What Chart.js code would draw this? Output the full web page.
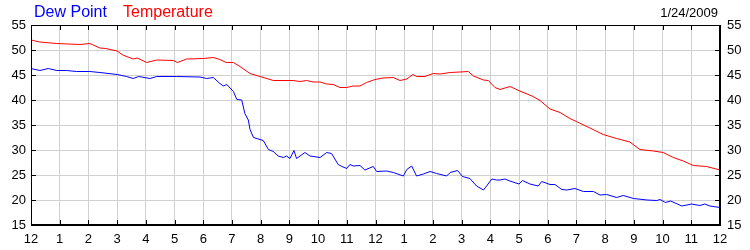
<!DOCTYPE html>
<html>
<head>
<meta charset="utf-8">
<script src="https://cdn.jsdelivr.net/npm/chart.js@4/dist/chart.umd.min.js"></script>
<style>
    body { margin: 0; background: #fff; }
    .wrap { position: relative; width: 750px; height: 250px; font-family: "Liberation Sans", Arial, sans-serif; }
    .label { position: absolute; line-height: 1; white-space: nowrap; }
    .dew { left: 34px; top: 4px; font-size: 16px; color: #0000ff; }
    .temp { left: 123px; top: 4px; font-size: 16px; color: #ff0000; }
    .date { right: 32px; top: 6px; font-size: 13px; color: #000; }
</style>
</head>
<body>
<div class="wrap">
    <canvas id="weatherChart"></canvas>
    <span class="label dew">Dew Point</span>
    <span class="label temp">Temperature</span>
    <span class="label date">1/24/2009</span>
</div>
<script>
// hour labels for the 24h day, midnight to midnight
const hourLabels = ["12", "1", "2", "3", "4", "5", "6", "7", "8", "9", "10", "11",
    "12", "1", "2", "3", "4", "5", "6", "7", "8", "9", "10", "11", "12"];

const tempHours = [0, 0.3, 0.9, 1.7, 2.05, 2.4, 2.6, 3.0, 3.2, 3.56, 3.7, 4.03, 4.38, 4.96, 5.1, 5.42,
    6.0, 6.35, 6.58, 6.8, 7.05, 7.28, 7.63, 7.98, 8.44, 9.13, 9.37, 9.6, 9.83, 10.07, 10.3, 10.53,
    10.76, 11.0, 11.22, 11.46, 11.69, 11.98, 12.26, 12.62, 12.85, 13.09, 13.3, 13.44, 13.72, 14.01,
    14.25, 14.6, 14.94, 15.23, 15.41, 15.76, 15.93, 16.16, 16.34, 16.68, 17.03, 17.49, 17.73, 18.08,
    18.43, 18.77, 19.0, 19.47, 19.93, 20.4, 20.86, 21.21, 21.68, 22.02, 22.37, 22.72, 23.07, 23.53, 24];
const tempValues = [52.0, 51.6, 51.3, 51.1, 51.3, 50.4, 50.3, 49.8, 49.0, 48.2, 48.4, 47.5, 48.0, 47.9, 47.5, 48.2,
    48.3, 48.5, 48.1, 47.5, 47.5, 46.7, 45.3, 44.7, 43.9, 43.9, 43.7, 43.9, 43.6, 43.6, 43.2, 43.1,
    42.5, 42.5, 42.8, 42.8, 43.5, 44.1, 44.4, 44.5, 43.9, 44.2, 45.1, 44.7, 44.7, 45.3,
    45.2, 45.5, 45.6, 45.7, 44.8, 44.0, 43.9, 42.5, 42.1, 42.7, 41.8, 40.7, 39.9, 38.2,
    37.5, 36.3, 35.7, 34.4, 33.1, 32.3, 31.6, 30.1, 29.8, 29.5, 28.5, 27.8, 26.9, 26.7, 26.0];

const dewHours = [0, 0.31, 0.6, 0.9, 1.24, 1.59, 2.05, 2.4, 3.0, 3.33, 3.56, 3.75, 4.14, 4.38, 5.07, 5.89,
    6.12, 6.35, 6.58, 6.7, 6.82, 7.05, 7.17, 7.34, 7.45, 7.57, 7.63, 7.75, 8.09, 8.27, 8.44, 8.61,
    8.79, 8.9, 9.02, 9.16, 9.25, 9.54, 9.72, 10.07, 10.3, 10.47, 10.7, 10.83, 11.0, 11.11, 11.22, 11.46,
    11.63, 11.92, 12.04, 12.39, 12.62, 12.97, 13.09, 13.26, 13.43, 13.67, 13.9, 14.13, 14.48, 14.6,
    14.86, 15.03, 15.29, 15.52, 15.76, 15.87, 16.05, 16.22, 16.34, 16.51, 16.68, 17.0, 17.12, 17.38,
    17.67, 17.79, 18.08, 18.25, 18.49, 18.66, 18.95, 19.24, 19.59, 19.82, 20.05, 20.4, 20.63, 20.99,
    21.46, 21.8, 21.91, 22.1, 22.28, 22.67, 23.01, 23.3, 23.47, 23.65, 24];
const dewValues = [46.3, 45.9, 46.3, 45.9, 45.9, 45.7, 45.7, 45.5, 45.1, 44.7, 44.3, 44.7, 44.3, 44.7, 44.7, 44.6,
    44.3, 44.5, 43.3, 42.8, 43.1, 41.7, 40.1, 40.0, 37.3, 36.0, 34.1, 32.5, 31.9, 30.1, 29.7, 28.8,
    28.5, 28.8, 28.3, 29.9, 28.3, 29.5, 28.8, 28.5, 29.5, 29.3, 27.1, 26.7, 26.3, 27.1, 26.8, 26.9,
    26.0, 26.7, 25.7, 25.8, 25.5, 24.8, 26.1, 26.8, 24.8, 25.2, 25.7, 25.3, 24.8, 25.5,
    25.9, 24.7, 24.3, 22.8, 22.0, 22.8, 24.2, 24.0, 24.0, 24.2, 23.8, 23.2, 23.9, 23.2,
    22.8, 23.7, 23.1, 23.1, 22.1, 22.0, 22.3, 21.7, 21.7, 21.0, 21.1, 20.5, 20.9, 20.3,
    20.0, 19.9, 20.1, 19.5, 19.8, 18.8, 19.2, 18.9, 19.2, 18.8, 18.5];

const toPoints = (xs, ys) => xs.map((x, i) => ({ x, y: ys[i] }));

// frame + inward tick marks, like the old graph control
const framePlugin = {
    id: "frame",
    afterDraw(chart) {
        const { ctx, chartArea: a, scales } = chart;
        const len = 5;
        ctx.save();
        ctx.strokeStyle = "#000";
        ctx.lineWidth = 1;
        ctx.beginPath();
        scales.x.ticks.forEach((t) => {
            const px = Math.round(scales.x.getPixelForValue(t.value)) + 0.5;
            ctx.moveTo(px, a.bottom);
            ctx.lineTo(px, a.bottom - len);
            ctx.moveTo(px, a.top);
            ctx.lineTo(px, a.top + len);
        });
        scales.y.ticks.forEach((t) => {
            const py = Math.round(scales.y.getPixelForValue(t.value)) + 0.5;
            ctx.moveTo(a.left, py);
            ctx.lineTo(a.left + len, py);
            ctx.moveTo(a.right, py);
            ctx.lineTo(a.right - len, py);
        });
        ctx.stroke();
        ctx.strokeRect(a.left + 0.5, a.top + 0.5, a.width - 1, a.height - 1);
        ctx.restore();
    }
};

const tickFont = { family: "'Liberation Sans', Arial, sans-serif", size: 13 };

new Chart(document.getElementById("weatherChart"), {
    type: "line",
    data: {
        datasets: [
            {
                label: "Temperature",
                data: toPoints(tempHours, tempValues),
                borderColor: "#ff0000",
                borderWidth: 1,
                pointRadius: 0,
                tension: 0
            },
            {
                label: "Dew Point",
                data: toPoints(dewHours, dewValues),
                borderColor: "#0000ff",
                borderWidth: 1,
                pointRadius: 0,
                tension: 0
            }
        ]
    },
    options: {
        responsive: true,
        maintainAspectRatio: false,
        animation: false,
        layout: { padding: { top: 25, left: 0, right: 0, bottom: 0 } },
        plugins: {
            legend: { display: false },
            tooltip: { enabled: false }
        },
        scales: {
            x: {
                type: "linear",
                min: 0,
                max: 24,
                afterFit: (scale) => { scale.height = 25; },
                grid: { color: "#d0d0d0", drawTicks: false },
                border: { color: "#000" },
                ticks: {
                    stepSize: 1,
                    padding: 7,
                    color: "#000",
                    font: tickFont,
                    maxRotation: 0,
                    autoSkip: false,
                    callback: (value) => hourLabels[value]
                }
            },
            y: {
                min: 15,
                max: 55,
                afterFit: (scale) => { scale.width = 31; },
                grid: { color: "#d0d0d0", drawTicks: false },
                border: { color: "#000" },
                ticks: { stepSize: 5, padding: 5, color: "#000", font: tickFont }
            },
            y2: {
                position: "right",
                min: 15,
                max: 55,
                afterFit: (scale) => { scale.width = 30; },
                grid: { drawOnChartArea: false, drawTicks: false },
                border: { color: "#000" },
                ticks: { stepSize: 5, padding: 7, color: "#000", font: tickFont }
            }
        }
    },
    plugins: [framePlugin]
});
</script>
</body>
</html>
